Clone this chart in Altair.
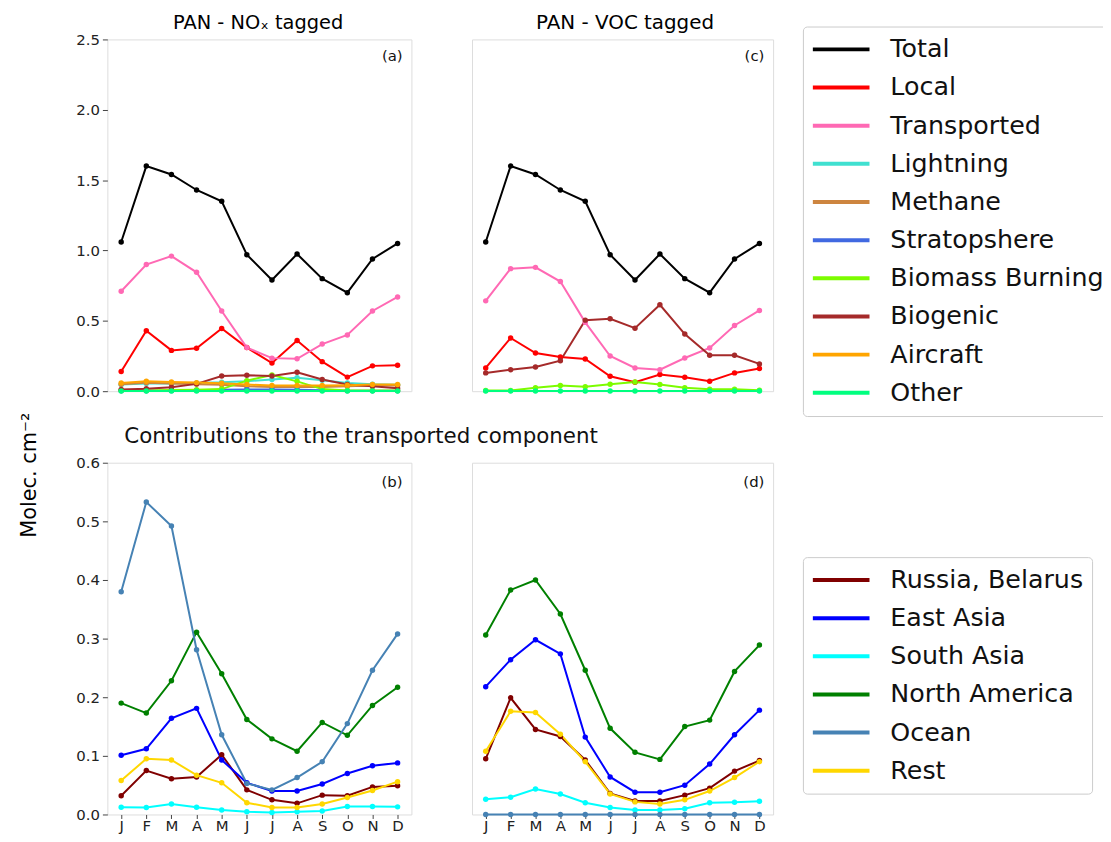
import altair as alt
import pandas as pd

months = ["J", "F", "M", "A", "M", "J", "J", "A", "S", "O", "N", "D"]

top_names = ["Total", "Local", "Transported", "Lightning", "Methane", "Stratopshere",
             "Biomass Burning", "Biogenic", "Aircraft", "Other"]
top_colors = ["#000000", "#ff0000", "#ff69b4", "#40e0d0", "#cd853f", "#4169e1",
              "#7cfc00", "#a52a2a", "#ffa500", "#00ff7f"]

bot_names = ["Russia, Belarus", "East Asia", "South Asia", "North America", "Ocean", "Rest"]
bot_colors = ["#800000", "#0000ff", "#00ffff", "#008000", "#4682b4", "#ffd700"]

# ---- panel (a): PAN - NOx tagged ----
a_total = [1.06, 1.60, 1.54, 1.43, 1.35, 0.97, 0.79, 0.975, 0.80, 0.70, 0.94, 1.05]
a_local = [0.14, 0.43, 0.29, 0.305, 0.445, 0.31, 0.20, 0.36, 0.21, 0.10, 0.18, 0.185]
a_transported = [0.71, 0.90, 0.96, 0.845, 0.57, 0.31, 0.235, 0.23, 0.335, 0.40, 0.57, 0.67]
a_lightning = [0.047, 0.054, 0.054, 0.059, 0.063, 0.071, 0.083, 0.095, 0.077, 0.059, 0.050, 0.045]
a_methane = [0.050, 0.060, 0.055, 0.050, 0.045, 0.035, 0.030, 0.030, 0.030, 0.035, 0.040, 0.040]
a_strat = [0.003, 0.003, 0.004, 0.006, 0.010, 0.012, 0.012, 0.010, 0.006, 0.004, 0.003, 0.003]
a_biomass = [0.005, 0.005, 0.008, 0.010, 0.015, 0.075, 0.115, 0.070, 0.015, 0.005, 0.005, 0.005]
a_biogenic = [0.012, 0.017, 0.028, 0.052, 0.108, 0.113, 0.108, 0.135, 0.083, 0.047, 0.035, 0.021]
a_aircraft = [0.059, 0.071, 0.066, 0.061, 0.057, 0.047, 0.040, 0.040, 0.040, 0.043, 0.047, 0.047]
a_other = [0.002, 0.002, 0.002, 0.002, 0.002, 0.002, 0.002, 0.002, 0.002, 0.002, 0.002, 0.002]

# ---- panel (c): PAN - VOC tagged ----
c_total = [1.06, 1.60, 1.54, 1.43, 1.35, 0.97, 0.79, 0.975, 0.80, 0.70, 0.94, 1.05]
c_local = [0.165, 0.378, 0.271, 0.243, 0.229, 0.106, 0.064, 0.118, 0.099, 0.071, 0.130, 0.161]
c_transported = [0.642, 0.871, 0.880, 0.779, 0.489, 0.250, 0.165, 0.153, 0.236, 0.307, 0.467, 0.574]
c_biomass = [0.005, 0.005, 0.024, 0.040, 0.031, 0.050, 0.066, 0.047, 0.024, 0.014, 0.014, 0.007]
c_biogenic = [0.130, 0.153, 0.172, 0.217, 0.505, 0.515, 0.448, 0.614, 0.406, 0.255, 0.255, 0.194]
c_other = [0.001, 0.001, 0.001, 0.001, 0.001, 0.001, 0.001, 0.001, 0.001, 0.001, 0.001, 0.001]

# ---- panel (b): transported contributions, NOx tagged ----
b_russia = [0.032, 0.075, 0.061, 0.064, 0.102, 0.042, 0.025, 0.019, 0.033, 0.032, 0.047, 0.049]
b_eastasia = [0.101, 0.112, 0.164, 0.181, 0.093, 0.054, 0.040, 0.040, 0.052, 0.070, 0.083, 0.088]
b_southasia = [0.0125, 0.012, 0.018, 0.0125, 0.0075, 0.0045, 0.0035, 0.0045, 0.006, 0.0136, 0.0136, 0.013]
b_northam = [0.190, 0.173, 0.228, 0.311, 0.240, 0.162, 0.129, 0.108, 0.157, 0.135, 0.186, 0.217]
b_ocean = [0.380, 0.533, 0.492, 0.281, 0.136, 0.053, 0.042, 0.063, 0.090, 0.155, 0.246, 0.308]
b_rest = [0.058, 0.095, 0.093, 0.067, 0.054, 0.020, 0.012, 0.012, 0.018, 0.029, 0.041, 0.056]

# ---- panel (d): transported contributions, VOC tagged ----
d_russia = [0.095, 0.199, 0.145, 0.133, 0.093, 0.036, 0.023, 0.023, 0.033, 0.045, 0.074, 0.092]
d_eastasia = [0.218, 0.264, 0.298, 0.274, 0.132, 0.064, 0.038, 0.038, 0.050, 0.086, 0.136, 0.178]
d_southasia = [0.026, 0.0295, 0.0435, 0.035, 0.020, 0.012, 0.0075, 0.0075, 0.0097, 0.020, 0.021, 0.0227]
d_northam = [0.306, 0.383, 0.400, 0.342, 0.246, 0.147, 0.106, 0.094, 0.150, 0.161, 0.244, 0.289]
d_ocean = [0.0, 0.0, 0.0, 0.0, 0.0, 0.0, 0.0, 0.0, 0.0, 0.0, 0.0, 0.0]
d_rest = [0.108, 0.176, 0.174, 0.137, 0.090, 0.035, 0.0215, 0.018, 0.025, 0.040, 0.063, 0.090]

a_ticks = [0.0, 0.5, 1.0, 1.5, 2.0, 2.5]
b_ticks = [0.0, 0.1, 0.2, 0.3, 0.4, 0.5, 0.6]


def make_df(series):
    rows = []
    for name, vals in series:
        for i, v in enumerate(vals):
            rows.append({"m": i, "value": v, "series": name})
    return pd.DataFrame(rows)


df_a = make_df([("Total", a_total), ("Local", a_local), ("Transported", a_transported),
                ("Lightning", a_lightning), ("Methane", a_methane), ("Stratopshere", a_strat),
                ("Biomass Burning", a_biomass), ("Biogenic", a_biogenic),
                ("Aircraft", a_aircraft), ("Other", a_other)])
df_c = make_df([("Total", c_total), ("Local", c_local), ("Transported", c_transported),
                ("Biomass Burning", c_biomass), ("Biogenic", c_biogenic), ("Other", c_other)])
df_b = make_df([("Russia, Belarus", b_russia), ("East Asia", b_eastasia), ("South Asia", b_southasia),
                ("North America", b_northam), ("Ocean", b_ocean), ("Rest", b_rest)])
df_d = make_df([("Russia, Belarus", d_russia), ("East Asia", d_eastasia), ("South Asia", d_southasia),
                ("North America", d_northam), ("Ocean", d_ocean), ("Rest", d_rest)])

label_expr = "[" + ",".join("'" + m + "'" for m in months) + "][datum.value]"
FONT = "DejaVu Sans"


def make_legend(lx, ly):
    return alt.Legend(orient="none", legendX=lx, legendY=ly, title=None,
                      symbolType="stroke", symbolSize=3249, symbolStrokeWidth=4,
                      labelFontSize=25.5, labelColor="#111111", labelFont=FONT,
                      clipHeight=30, rowPadding=8.4, padding=8,
                      strokeColor="#cccccc", cornerRadius=4, fillColor="white",
                      labelOffset=19, labelLimit=400)


def panel(df, names, colors, ymax, yticks, w, h, show_y, show_x, tag, tag_y,
          legend=None, head=None, head_y=None, head_size=19.5, title=None, ytitle=None):
    xscale = alt.Scale(domain=[-0.55, 11.55], nice=False, zero=False)
    yscale = alt.Scale(domain=[0, ymax], nice=False, zero=True)
    if show_x:
        xaxis = alt.Axis(values=list(range(12)), labelExpr=label_expr, title=None,
                         grid=False, domain=False, ticks=True, tickSize=4,
                         tickColor="#444444", labelColor="#222222", labelFontSize=15,
                         labelPadding=0, labelFont=FONT)
    else:
        xaxis = None
    if show_y:
        if ytitle:
            yaxis = alt.Axis(values=yticks, format=".1f", grid=False, domain=False,
                             tickSize=5, tickColor="#444444", labelColor="#222222",
                             labelFontSize=15, labelFont=FONT, labelPadding=3,
                             titleFontSize=21, titleFontWeight="normal", titleColor="#000000",
                             titleFont=FONT, titleX=-78, titleY=438, titleAngle=270,
                             titleAlign="center", titleBaseline="middle")
        else:
            yaxis = alt.Axis(values=yticks, format=".1f", title=None, grid=False, domain=False,
                             tickSize=5, tickColor="#444444", labelColor="#222222",
                             labelFontSize=15, labelFont=FONT, labelPadding=3)
    else:
        yaxis = None

    ykw = {"scale": yscale, "axis": yaxis}
    if ytitle:
        ykw["title"] = ytitle
    color_kw = {"scale": alt.Scale(domain=names, range=colors)}
    color_kw["legend"] = legend

    lines = alt.Chart(df).mark_line(
        strokeWidth=2,
        point=alt.OverlayMarkDef(size=30, filled=True, opacity=1),
    ).encode(
        x=alt.X("m:Q", scale=xscale, axis=xaxis),
        y=alt.Y("value:Q", **ykw),
        color=alt.Color("series:N", **color_kw),
    )
    tag_df = pd.DataFrame({"m": [11.2], "value": [tag_y], "t": [tag]})
    txt = alt.Chart(tag_df).mark_text(align="right", baseline="middle", fontSize=15,
                                      font=FONT, color="#111111").encode(
        x=alt.X("m:Q", scale=xscale, axis=xaxis),
        y=alt.Y("value:Q", scale=yscale, axis=yaxis),
        text="t:N",
    )
    layers = [lines, txt]
    if head is not None:
        head_df = pd.DataFrame({"m": [head[0]], "value": [head_y], "t": [head[1]]})
        htxt = alt.Chart(head_df).mark_text(align="center", baseline="middle",
                                            fontSize=head_size, font=FONT,
                                            color="#000000").encode(
            x=alt.X("m:Q", scale=xscale, axis=xaxis),
            y=alt.Y("value:Q", scale=yscale, axis=yaxis),
            text="t:N",
        )
        layers.append(htxt)
    layer = alt.layer(*layers)
    props = {"width": w, "height": h}
    if title is not None:
        props["title"] = title
    return layer.properties(**props)


title_b = alt.TitleParams("Contributions to the transported component", fontSize=21.5,
                          fontWeight="normal", font=FONT, color="#111111", offset=8,
                          anchor="start", dx=17, frame="group")

pa = panel(df_a, top_names, top_colors, 2.5, a_ticks, 306, 354, True, False, "(a)", 2.385,
           legend=None, head=(5.45, "PAN - NOₓ tagged"), head_y=2.62, head_size=19.5,
           ytitle="Molec. cm⁻²")
pc = panel(df_c, top_names, top_colors, 2.5, a_ticks, 303, 354, False, False, "(c)", 2.385,
           legend=make_legend(333, -13), head=(5.6, "PAN  - VOC tagged"), head_y=2.62,
           head_size=20)
pb = panel(df_b, bot_names, bot_colors, 0.6, b_ticks, 306, 354, True, True, "(b)", 0.567,
           legend=None, title=title_b)
pd_ = panel(df_d, bot_names, bot_colors, 0.6, b_ticks, 303, 354, False, True, "(d)", 0.567,
            legend=make_legend(333, 95))

chart = alt.concat(pa, pc, pb, pd_, columns=2, spacing={"row": 72, "column": 61},
                   bounds="flush",
                   autosize=alt.AutoSizeParams(type="none"),
                   padding={"left": 100, "top": 29, "right": 1002, "bottom": 797}).resolve_scale(
    color="independent", x="independent", y="independent").resolve_legend(
    color="independent").configure_view(stroke="#555555", strokeWidth=1.5).configure(
    font=FONT)

chart.save("out.html", embed_options={"renderer": "svg", "actions": False})
